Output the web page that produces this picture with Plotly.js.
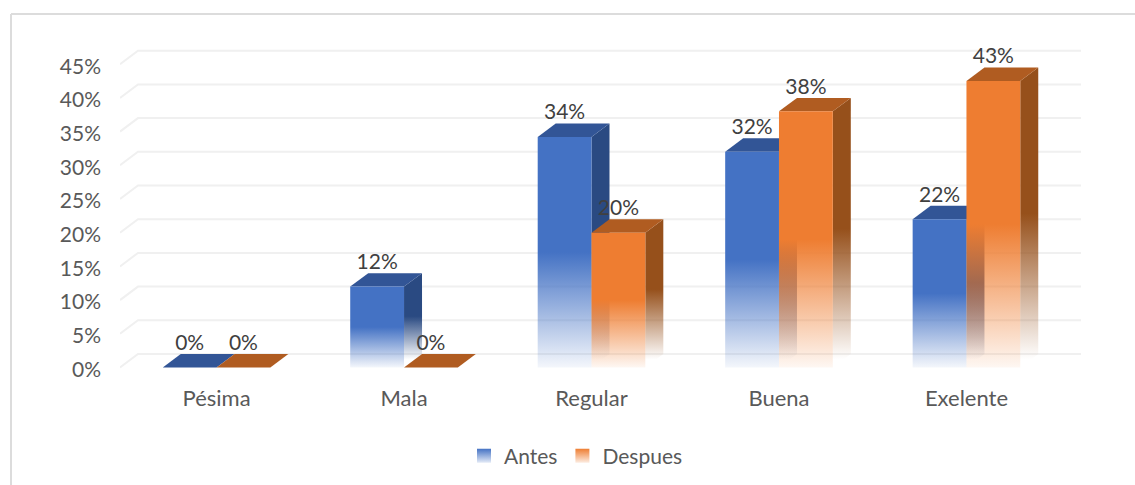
<!DOCTYPE html>
<html>
<head>
<meta charset="utf-8">
<script src="https://cdn.plot.ly/plotly-3.0.1.min.js"></script>
<style>html,body{margin:0;padding:0;background:#fff}#chart{width:1135px;height:485px}</style>
</head>
<body>
<div id="chart"></div>
<script>
const categories = ['Pésima', 'Mala', 'Regular', 'Buena', 'Exelente'];
const antes = [0, 12, 34.2, 32, 22];
const despues = [0, 0, 20, 38, 42.5];
const yTicks = [0, 5, 10, 15, 20, 25, 30, 35, 40, 45];

const FONT = 'Lato, "Open Sans", sans-serif';
const barW = 0.287, depthX = 0.096, depthY = 2.0;
const gridL = -0.515, gridR = 4.611;
const blue = {front: '68,114,196', side: '42,74,130', top: '50,85,150'};
const orange = {front: '238,125,49', side: '150,80,27', top: '176,92,33'};

function fade(rgb, start, stop, low) {
  return {type: 'vertical', start: start, stop: stop, colorscale: [
    [0, `rgba(${rgb},${low})`], [0.5, `rgba(${rgb},1)`], [1, `rgba(${rgb},1)`]
  ]};
}
function poly(xs, ys, extra) {
  return Object.assign({type: 'scatter', mode: 'lines', x: xs, y: ys, fill: 'toself',
    line: {width: 0}, hoverinfo: 'skip', showlegend: false}, extra);
}
const traces = [];
// back-wall gridlines
const gx = [], gy = [];
yTicks.forEach(t => { gx.push(gridL, gridL + depthX, gridR, null); gy.push(t, t + depthY, t + depthY, null); });
traces.push({type: 'scatter', mode: 'lines', x: gx, y: gy, line: {color: '#F0F0F0', width: 2},
  hoverinfo: 'skip', showlegend: false});

function addBar(cx, v, col) {
  const x0 = cx, x1 = cx + barW;
  if (v > 0) {
    traces.push(poly([x1, x1 + depthX, x1 + depthX, x1, x1], [0, depthY, v + depthY, v, 0],
      {fillcolor: `rgb(${col.side})`, fillgradient: fade(col.side, depthY * 0.6, v + depthY, 0)}));
  }
  traces.push(poly([x0, x0 + depthX, x1 + depthX, x1, x0], [v, v + depthY, v + depthY, v, v],
    {fillcolor: `rgb(${col.top})`}));
  if (v > 0) {
    traces.push(poly([x0, x1, x1, x0, x0], [0, 0, v, v, 0],
      {fillcolor: `rgb(${col.front})`, fillgradient: fade(col.front, 0, v, 0.06)}));
  }
}
categories.forEach((c, i) => {
  addBar(i - barW, antes[i], blue);
  addBar(i, despues[i], orange);
});

// data labels
const lblOffset = 3.4;
function labels(vals, shift) {
  return {type: 'scatter', mode: 'text', x: vals.map((v, i) => i + shift), y: vals.map(v => v + lblOffset),
    text: vals.map(v => Math.round(v) + '%'), textposition: 'middle center',
    textfont: {family: FONT, size: 21, color: '#404040'}, hoverinfo: 'skip', showlegend: false};
}
traces.push(labels(antes, -barW / 2), labels(despues, barW / 2));

// legend entries
function legendTrace(name, rgb) {
  return {type: 'scatter', mode: 'markers', name: name, x: [null], y: [null], showlegend: true, hoverinfo: 'skip',
    marker: {symbol: 'square', size: 14, color: `rgb(${rgb})`, gradient: {type: 'vertical', color: `rgba(${rgb},0.15)`}}};
}
traces.push(legendTrace('Antes', blue.front), legendTrace('Despues', orange.front));

const layout = {
  width: 1135, height: 485, margin: {l: 0, r: 0, t: 0, b: 0},
  paper_bgcolor: '#fff', plot_bgcolor: 'rgba(0,0,0,0)',
  xaxis: {domain: [120 / 1135, 1085 / 1135], range: [-0.515, 4.6323], tickmode: 'array',
    tickvals: categories.map((c, i) => i), ticktext: categories, showgrid: false, zeroline: false,
    showline: false, ticks: '', ticklabelstandoff: 3, tickfont: {family: FONT, size: 22, color: '#595959'}},
  yaxis: {domain: [105 / 485, 455 / 485], range: [-1.855, 50.07], tickmode: 'array',
    tickvals: yTicks.map(t => t - 0.3), ticktext: yTicks.map(t => t + '%'), showgrid: false, zeroline: false,
    showline: false, ticks: '', ticklabelstandoff: 18, tickfont: {family: FONT, size: 21, color: '#595959'}},
  showlegend: true,
  legend: {orientation: 'h', x: 464 / 1135, xanchor: 'left', y: (485 - 456) / 485, yanchor: 'middle',
    font: {family: FONT, size: 21, color: '#595959'}, bgcolor: 'rgba(0,0,0,0)', itemwidth: 30, traceorder: 'normal'},
  shapes: [
    {type: 'line', xref: 'paper', yref: 'paper', x0: 11 / 1135, x1: 1, y0: 471 / 485, y1: 471 / 485, line: {color: '#DCDCDC', width: 2}},
    {type: 'line', xref: 'paper', yref: 'paper', x0: 11 / 1135, x1: 11 / 1135, y0: 0, y1: 471 / 485, line: {color: '#DCDCDC', width: 2}}
  ]
};
Plotly.newPlot('chart', traces, layout, {displayModeBar: false, staticPlot: true});
</script>
</body>
</html>
